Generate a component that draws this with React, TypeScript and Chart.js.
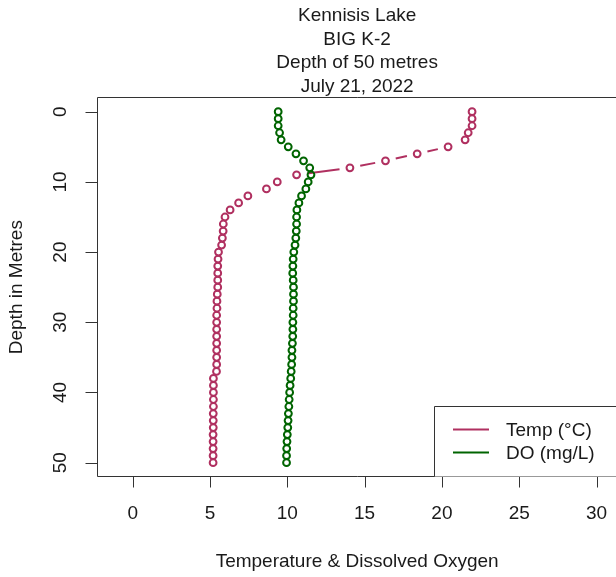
import React, { useEffect, useRef } from "react";
import { Chart, registerables } from "chart.js";

Chart.register(...registerables);

const titleLines = ["Kennisis Lake", "BIG K-2", "Depth of 50 metres", "July 21, 2022"];
const xTitle = "Temperature & Dissolved Oxygen";
const yTitle = "Depth in Metres";
const xTicks = [0, 5, 10, 15, 20, 25, 30];
const yTicks = [0, 10, 20, 30, 40, 50];
const legendLabels = ["Temp (°C)", "DO (mg/L)"];

const depths = [
  0, 1, 2, 3, 4, 5, 6, 7, 8, 9, 10, 11, 12, 13, 14, 15, 16, 17, 18, 19, 20, 21, 22, 23, 24, 25,
  26, 27, 28, 29, 30, 31, 32, 33, 34, 35, 36, 37, 38, 39, 40, 41, 42, 43, 44, 45, 46, 47, 48, 49, 50,
];

const temp = [
  21.95, 21.95, 21.95, 21.7, 21.5, 20.4, 18.4, 16.35, 14.05, 10.6, 9.35, 8.65, 7.45, 6.85, 6.3,
  5.97, 5.86, 5.85, 5.8, 5.75, 5.55, 5.52, 5.5, 5.5, 5.5, 5.5, 5.47, 5.45, 5.45, 5.43, 5.43,
  5.43, 5.43, 5.43, 5.43, 5.43, 5.43, 5.42, 5.22, 5.22, 5.22, 5.22, 5.22, 5.21, 5.21, 5.21, 5.2,
  5.2, 5.2, 5.2, 5.2,
];

const dissolvedO2 = [
  9.41, 9.41, 9.41, 9.5, 9.6, 10.06, 10.56, 11.05, 11.45, 11.53, 11.35, 11.2, 10.92, 10.75, 10.62,
  10.6, 10.6, 10.58, 10.55, 10.5, 10.42, 10.38, 10.36, 10.35, 10.38, 10.4, 10.4, 10.4, 10.38,
  10.38, 10.36, 10.36, 10.35, 10.33, 10.3, 10.3, 10.28, 10.25, 10.22, 10.18, 10.15, 10.12, 10.1,
  10.07, 10.05, 10.03, 10.0, 9.98, 9.96, 9.95, 9.95,
];

const TEMP_COLOR = "#B03060";
const DO_COLOR = "#006400";
const AXIS_COLOR = "#333333";
const TEXT_COLOR = "#1a1a1a";
const FONT = "19px 'Liberation Sans', Arial, sans-serif";

const rPlugin = {
  id: "rstyle",
  beforeDatasetsDraw(chart: any) {
    const ctx = chart.ctx;
    const gap = 10.5;
    chart.data.datasets.forEach((ds: any, i: number) => {
      const meta = chart.getDatasetMeta(i);
      const pts = meta.data;
      ctx.save();
      ctx.strokeStyle = ds.borderColor;
      ctx.lineWidth = 2;
      ctx.lineCap = "butt";
      for (let k = 0; k < pts.length - 1; k++) {
        const p0 = pts[k];
        const p1 = pts[k + 1];
        const dx = p1.x - p0.x;
        const dy = p1.y - p0.y;
        const len = Math.sqrt(dx * dx + dy * dy);
        if (len <= 2 * gap) continue;
        const ux = dx / len;
        const uy = dy / len;
        ctx.beginPath();
        ctx.moveTo(p0.x + ux * gap, p0.y + uy * gap);
        ctx.lineTo(p1.x - ux * gap, p1.y - uy * gap);
        ctx.stroke();
      }
      ctx.restore();
    });
  },
  afterDraw(chart: any) {
    const ctx = chart.ctx;
    const area = chart.chartArea;
    const xs = chart.scales.x;
    const ys = chart.scales.y;
    const left = Math.floor(area.left) + 0.5;
    const top = Math.floor(area.top) + 0.5;
    const bottom = Math.floor(area.bottom) + 0.5;
    const right = area.right + 2;
    ctx.save();
    // frame
    ctx.strokeStyle = AXIS_COLOR;
    ctx.lineWidth = 1;
    ctx.beginPath();
    ctx.moveTo(right, top);
    ctx.lineTo(left, top);
    ctx.lineTo(left, bottom);
    ctx.lineTo(right, bottom);
    ctx.stroke();

    // x ticks
    ctx.fillStyle = TEXT_COLOR;
    ctx.font = FONT;
    ctx.textAlign = "center";
    ctx.textBaseline = "middle";
    xTicks.forEach((v) => {
      const px = Math.round(xs.getPixelForValue(v)) + 0.5;
      ctx.beginPath();
      ctx.moveTo(px, bottom);
      ctx.lineTo(px, bottom + 11);
      ctx.stroke();
      ctx.fillText(String(v), xs.getPixelForValue(v), 514);
    });

    // y ticks
    yTicks.forEach((v) => {
      const py = Math.round(ys.getPixelForValue(v)) + 0.5;
      ctx.beginPath();
      ctx.moveTo(left, py);
      ctx.lineTo(left - 12, py);
      ctx.stroke();
      ctx.save();
      ctx.translate(61, ys.getPixelForValue(v));
      ctx.rotate(-Math.PI / 2);
      ctx.fillText(String(v), 0, 0);
      ctx.restore();
    });

    // axis titles
    const cx = (area.left + 617) / 2;
    ctx.fillText(xTitle, cx, 562);
    ctx.save();
    ctx.translate(17, (area.top + area.bottom) / 2);
    ctx.rotate(-Math.PI / 2);
    ctx.fillText(yTitle, 0, 0);
    ctx.restore();

    // main title
    const ty = [16, 39.5, 63, 87];
    titleLines.forEach((t, i) => ctx.fillText(t, cx, ty[i]));

    // legend
    const lx = 434.5;
    const ly = 406.5;
    ctx.fillStyle = "#ffffff";
    ctx.fillRect(lx, ly, 640 - lx, bottom - ly);
    ctx.strokeStyle = AXIS_COLOR;
    ctx.beginPath();
    ctx.moveTo(640, ly);
    ctx.lineTo(lx, ly);
    ctx.lineTo(lx, bottom);
    ctx.stroke();
    const cols = [TEMP_COLOR, DO_COLOR];
    const rowY = [431, 454];
    legendLabels.forEach((lab, i) => {
      ctx.strokeStyle = cols[i];
      ctx.lineWidth = 2;
      ctx.beginPath();
      ctx.moveTo(453, rowY[i] - 1.5);
      ctx.lineTo(489, rowY[i] - 1.5);
      ctx.stroke();
      ctx.fillStyle = TEXT_COLOR;
      ctx.textAlign = "left";
      ctx.fillText(lab, 506, rowY[i]);
    });
    ctx.restore();
  },
};

export default function App() {
  const ref = useRef<HTMLCanvasElement>(null);
  useEffect(() => {
    const canvas = ref.current;
    if (!canvas) return;
    const mk = (vals: number[]) => vals.map((v, i) => ({ x: v, y: depths[i] }));
    const chart = new Chart(canvas, {
      type: "scatter",
      data: {
        datasets: [
          {
            label: legendLabels[0],
            data: mk(temp),
            borderColor: TEMP_COLOR,
            backgroundColor: "rgba(0,0,0,0)",
            pointRadius: 3.4,
            pointBorderWidth: 2,
            showLine: false,
          },
          {
            label: legendLabels[1],
            data: mk(dissolvedO2),
            borderColor: DO_COLOR,
            backgroundColor: "rgba(0,0,0,0)",
            pointRadius: 3.4,
            pointBorderWidth: 2,
            showLine: false,
          },
        ],
      },
      options: {
        responsive: false,
        animation: false,
        devicePixelRatio: 1,
        layout: { autoPadding: false, padding: { left: 97.3, right: 0, top: 97.66, bottom: 100.3 } },
        plugins: { legend: { display: false }, tooltip: { enabled: false }, title: { display: false } },
        scales: {
          x: { type: "linear", min: -2.29, max: 31.26, display: false },
          y: { type: "linear", min: -2, max: 52, reverse: true, display: false },
        },
      },
      plugins: [rPlugin],
    });
    return () => chart.destroy();
  }, []);
  return (
    <div style={{ position: "absolute", left: 0, top: 0, width: 616, height: 577, background: "#fff" }}>
      <canvas ref={ref} width={616} height={577} style={{ display: "block", width: 616, height: 577 }} />
    </div>
  );
}
